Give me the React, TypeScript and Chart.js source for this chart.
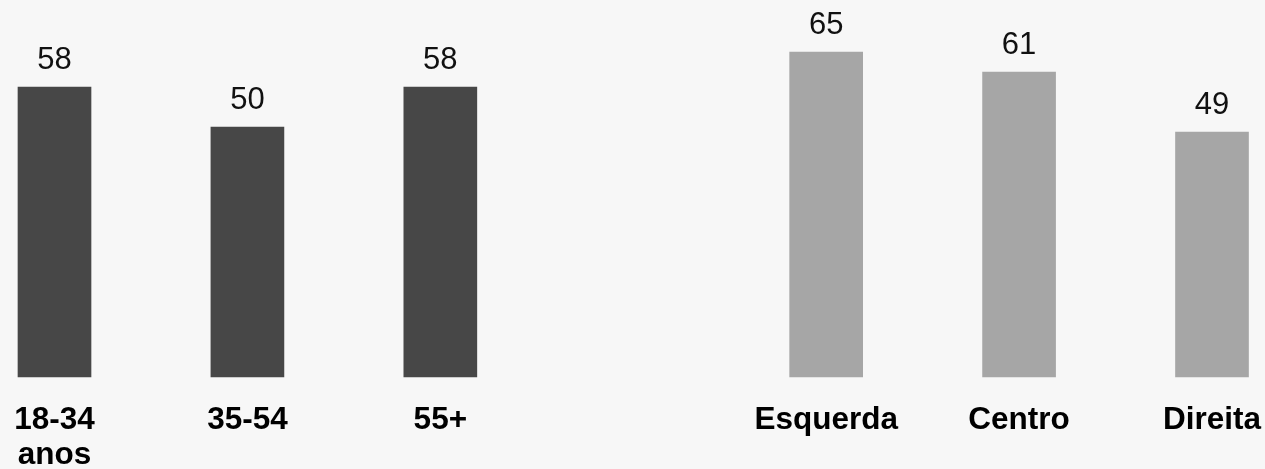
import React, { useEffect, useRef } from "react";
import { Chart, registerables } from "chart.js";

Chart.register(...registerables);

// Age groups on the left, political position on the right, with an empty slot between them
const categories: (string | string[])[] = [
  ["18-34", "anos"],
  "35-54",
  "55+",
  "",
  "Esquerda",
  "Centro",
  "Direita",
];
const values: (number | null)[] = [58, 50, 58, null, 65, 61, 49];
const barColors: string[] = [
  "#474747",
  "#474747",
  "#474747",
  "#474747",
  "#a6a6a6",
  "#a6a6a6",
  "#a6a6a6",
];

const FONT = '"Liberation Sans", Arial, Helvetica, sans-serif';

const valueLabels = {
  id: "valueLabels",
  afterDatasetsDraw(chart: any) {
    const ctx = chart.ctx;
    const meta = chart.getDatasetMeta(0);
    ctx.save();
    ctx.font = `31px ${FONT}`;
    ctx.fillStyle = "#111111";
    ctx.textAlign = "center";
    ctx.textBaseline = "alphabetic";
    meta.data.forEach((bar: any, i: number) => {
      const v = values[i];
      if (v === null || v === undefined) return;
      ctx.fillText(String(v), bar.x, bar.y - 18);
    });
    ctx.restore();
  },
};

export default function App() {
  const canvasRef = useRef<HTMLCanvasElement | null>(null);

  useEffect(() => {
    if (!canvasRef.current) return;
    const chart = new Chart(canvasRef.current, {
      type: "bar",
      data: {
        labels: categories,
        datasets: [
          {
            data: values,
            backgroundColor: barColors,
            barThickness: 73,
            clip: false as any,
          },
        ],
      },
      options: {
        animation: false,
        responsive: true,
        maintainAspectRatio: false,
        layout: { padding: { top: 27, left: 54.5, right: 53, bottom: 0 } },
        plugins: {
          legend: { display: false },
          tooltip: { enabled: false },
        },
        scales: {
          x: {
            offset: false,
            // grid hidden; tickLength only spaces the labels below the bars
            grid: { display: false, drawTicks: true, tickLength: 26 },
            border: { display: false },
            ticks: {
              color: "#000000",
              padding: 0,
              maxRotation: 0,
              autoSkip: false,
              font: { family: FONT, size: 31.5, weight: "bold", lineHeight: 1.1 },
            },
            afterFit(scale: any) {
              scale.height = 92;
            },
          },
          y: {
            display: false,
            min: 0,
            max: 70,
          },
        },
      },
      plugins: [valueLabels],
    });
    return () => chart.destroy();
  }, []);

  return (
    <div
      style={{
        position: "fixed",
        left: 0,
        top: 0,
        width: 1265,
        height: 469,
        background: "#f7f7f7",
      }}
    >
      <canvas ref={canvasRef} />
    </div>
  );
}
